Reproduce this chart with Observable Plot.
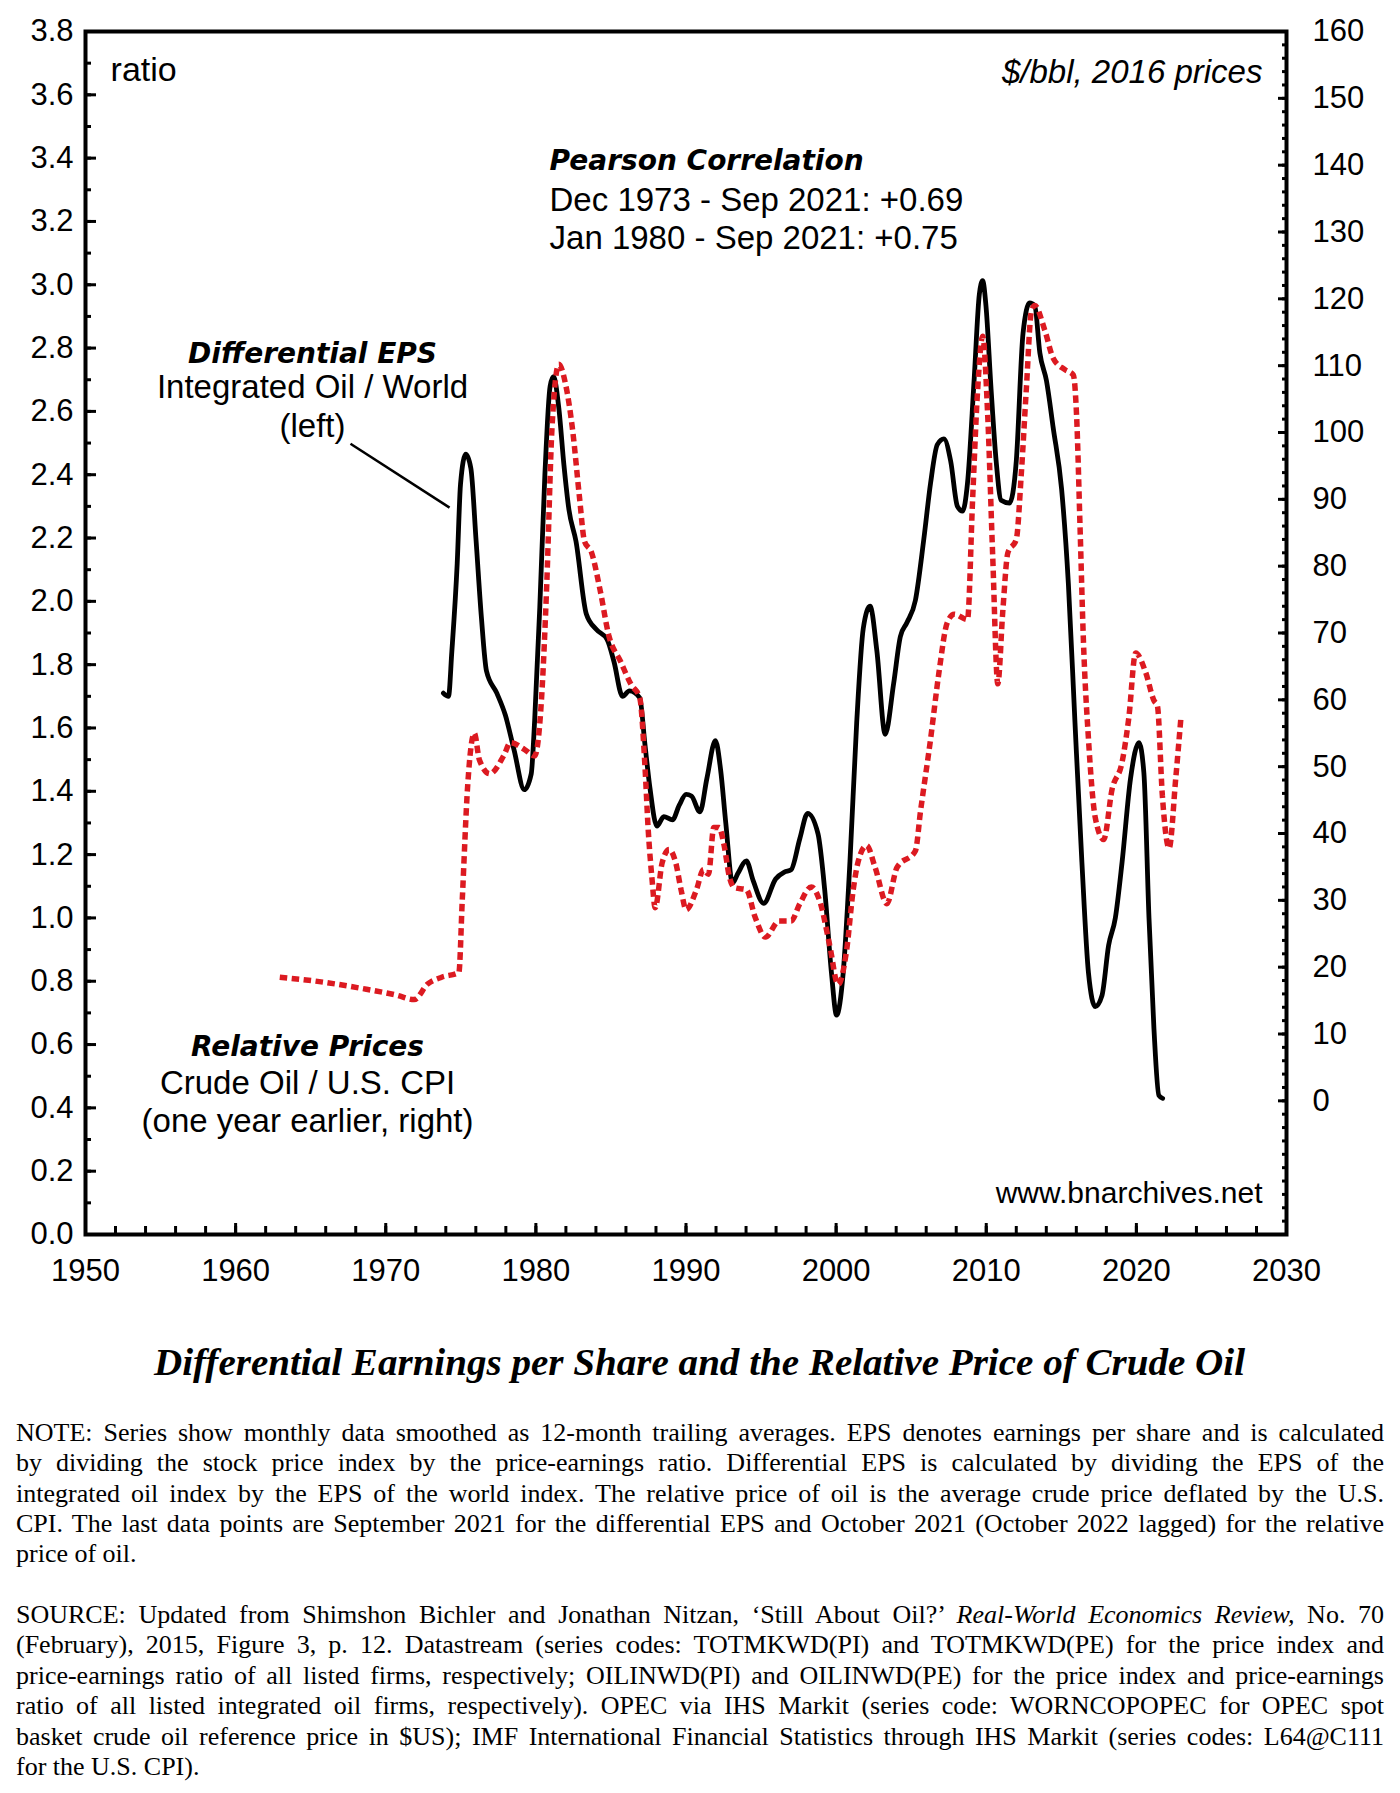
<!DOCTYPE html>
<html>
<head>
<meta charset="utf-8">
<script src="https://cdn.jsdelivr.net/npm/d3@7"></script>
<script src="https://cdn.jsdelivr.net/npm/@observablehq/plot@0.6"></script>
<style>
  html, body { margin: 0; padding: 0; background: #fff; }
  #wrap { position: relative; width: 1400px; height: 1793px; background: #fff; overflow: hidden; }
  #chart { position: absolute; left: 0; top: 0; }
  #title { position: absolute; left: 0; top: 1343px; white-space: nowrap;
           font-family: "Liberation Serif", "Times New Roman", serif; font-weight: bold; font-style: italic;
           font-size: 38px; line-height: 38px; transform-origin: 0 0; }
  .notes { position: absolute; left: 16px; transform-origin: 0 0;
           font-family: "Liberation Serif", "Times New Roman", serif; font-size: 26px; line-height: 30.4px; color: #000; }
  .ln { text-align: justify; text-align-last: justify; white-space: normal; }
  .ln.last { text-align: left; text-align-last: left; }
</style>
</head>
<body>
<div id="wrap">
  <div id="chart"></div>
  <div id="title">Differential Earnings per Share and the Relative Price of Crude Oil</div>
  <div class="notes" id="note" style="top:1417.8px">
    <div class="ln">NOTE: Series show monthly data smoothed as 12-month trailing averages. EPS denotes earnings per share and is calculated</div>
    <div class="ln">by dividing the stock price index by the price-earnings ratio. Differential EPS is calculated by dividing the EPS of the</div>
    <div class="ln">integrated oil index by the EPS of the world index. The relative price of oil is the average crude price deflated by the U.S.</div>
    <div class="ln">CPI. The last data points are September 2021 for the differential EPS and October 2021 (October 2022 lagged) for the relative</div>
    <div class="ln last">price of oil.</div>
  </div>
  <div class="notes" id="source" style="top:1600px">
    <div class="ln">SOURCE: Updated from Shimshon Bichler and Jonathan Nitzan, ‘Still About Oil?’ <i>Real-World Economics Review,</i> No. 70</div>
    <div class="ln">(February), 2015, Figure 3, p. 12. Datastream (series codes: TOTMKWD(PI) and TOTMKWD(PE) for the price index and</div>
    <div class="ln">price-earnings ratio of all listed firms, respectively; OILINWD(PI) and OILINWD(PE) for the price index and price-earnings</div>
    <div class="ln">ratio of all listed integrated oil firms, respectively). OPEC via IHS Markit (series code: WORNCOPOPEC for OPEC spot</div>
    <div class="ln">basket crude oil reference price in $US); IMF International Financial Statistics through IHS Markit (series codes: L64@C111</div>
    <div class="ln last">for the U.S. CPI).</div>
  </div>
</div>
<script>
// ---------------- DATA ----------------
// Differential EPS, Integrated Oil / World (left axis, ratio)
const epsYears = [1973.84,1974.18,1974.4,1974.76,1974.98,1975.33,1975.67,1976.02,1976.37,1976.71,1977.4,1977.97,1978.55,1979.23,1979.69,1979.92,1980.26,1980.6,1980.95,1981.17,1981.53,1981.87,1982.2,1982.67,1983.36,1984.05,1984.74,1985.2,1985.77,1986.23,1986.92,1987.26,1987.6,1988.06,1988.52,1989.1,1989.55,1990.01,1990.36,1990.93,1991.39,1991.96,1992.3,1992.65,1993.1,1993.45,1994.02,1994.48,1995.17,1995.97,1996.55,1997.0,1997.58,1998.1,1998.79,1999.24,1999.69,2000.03,2000.47,2000.92,2001.37,2001.81,2002.26,2002.71,2003.27,2003.83,2004.28,2004.72,2005.28,2005.84,2006.29,2006.74,2007.18,2007.63,2008.08,2008.42,2008.75,2009.2,2009.54,2009.76,2009.98,2010.32,2010.66,2010.99,2011.55,2012.0,2012.45,2012.89,2013.23,2013.57,2014.01,2014.46,2015.02,2015.47,2015.91,2016.37,2016.81,2017.26,2017.71,2018.15,2018.6,2019.05,2019.61,2020.17,2020.5,2020.84,2021.17,2021.5,2021.75];
const epsValues = [1.71,1.70,1.84,2.12,2.37,2.465,2.42,2.19,1.95,1.78,1.71,1.64,1.53,1.405,1.455,1.625,1.98,2.40,2.68,2.71,2.61,2.43,2.29,2.19,1.96,1.91,1.88,1.81,1.70,1.717,1.695,1.55,1.41,1.29,1.32,1.31,1.356,1.39,1.385,1.335,1.44,1.56,1.47,1.30,1.11,1.14,1.18,1.117,1.046,1.123,1.145,1.152,1.25,1.33,1.266,1.088,0.826,0.693,0.826,1.177,1.617,1.915,1.985,1.845,1.58,1.74,1.889,1.933,2.003,2.196,2.373,2.495,2.513,2.443,2.30,2.285,2.373,2.706,2.97,3.013,2.934,2.671,2.443,2.319,2.31,2.443,2.847,2.943,2.934,2.785,2.697,2.548,2.354,2.056,1.617,1.177,0.826,0.72,0.755,0.913,1.0,1.177,1.44,1.554,1.458,1.0,0.65,0.439,0.43];

// Relative price: Crude Oil / U.S. CPI, one year earlier ($/bbl, 2016 prices, right axis)
const priceYears = [1962.94,1965.7,1968.45,1970.74,1971.89,1972.8,1973.72,1974.87,1975.1,1975.45,1975.9,1976.24,1976.93,1977.85,1978.31,1979.23,1979.92,1980.38,1980.72,1981.07,1981.53,1981.98,1982.44,1982.9,1983.24,1983.7,1984.28,1984.85,1985.65,1986.34,1986.92,1987.26,1987.49,1987.72,1987.95,1988.41,1988.87,1989.32,1989.67,1990.01,1990.7,1991.16,1991.5,1991.85,1992.2,1992.54,1992.88,1993.22,1994.02,1994.6,1995.29,1996.2,1997.0,1997.58,1998.35,1998.91,1999.57,2000.13,2000.69,2001.14,2001.47,2002.03,2002.6,2003.38,2004.05,2005.28,2005.62,2006.29,2006.85,2007.41,2007.87,2008.75,2009.09,2009.43,2009.76,2010.1,2010.43,2010.77,2011.1,2011.44,2012.0,2012.34,2012.67,2013.01,2013.23,2013.9,2014.46,2015.24,2015.8,2016.02,2016.25,2016.47,2016.81,2017.26,2017.82,2018.38,2019.05,2019.5,2019.95,2020.62,2021.17,2021.4,2021.73,2022.18,2022.62,2022.97];
const priceValues = [18.5,17.8,16.8,15.8,15.15,17.5,18.5,19.2,30.2,46.9,55.0,51.0,48.95,51.6,53.6,52.6,51.6,60.3,77,100.5,110.2,107.2,100.5,90.4,83.7,82.1,76.4,69.7,65.7,62.3,60.3,50.3,40.3,33.6,28.9,35.6,37.6,35.6,31.6,28.6,31.6,34.6,33.9,40.9,40.9,38.2,33.6,31.9,31.6,27.5,24.5,26.9,26.9,29.5,32.0,29.9,23.3,17.4,22.4,31.6,35.8,38.2,34.9,29.5,34.9,37.4,43.3,54.1,64.1,71.6,72.8,72.0,89.9,106.5,114.4,102.4,81.5,62.4,73.2,82.0,84.0,94.0,106.5,118.2,119.0,115.3,111.1,109.4,108.6,102.4,85.7,69.0,54.1,42.4,39.1,46.6,50.7,57.4,67.0,64.1,59.9,59.1,45.7,37.8,48.2,57.4];

// Axis ticks
const xMajor = d3.range(1950, 2031, 10);
const xMinor = d3.range(1950, 2031, 2);
const leftMajor = d3.range(0, 3.81, 0.2);
const leftMinor = d3.range(0, 3.81, 0.1);
const rightMajor = d3.range(0, 161, 10);
const rightMinor = d3.range(-20, 161, 2);

// ---------------- CHART ----------------
const W = 1400, H = 1300;
const mL = 85, mR = 114, mT = 31, mB = 66;
const plotW = W - mL - mR, plotH = H - mT - mB;
const RED = "#dc1a21";
const leftMax = 3.8, rightMin = -20, rightMax = 160;
const toLeft = v => (v - rightMin) * leftMax / (rightMax - rightMin);
const fromLeft = y => y * (rightMax - rightMin) / leftMax + rightMin;

const eps = epsYears.map((y, i) => ({year: y, value: epsValues[i]}));
const price = priceYears.map((y, i) => ({year: y, value: priceValues[i]}));

const SANS = "'Liberation Sans', Arial, sans-serif";
const BOLDI = "'DejaVu Sans', Verdana, sans-serif";
const TICK_FS = 31;
const ANN_FS = 33;

function label(txt, x, y, anchor, extra = {}) {
  return Plot.text([txt], {x, y, text: d => d, textAnchor: anchor, lineAnchor: "bottom",
    fontSize: ANN_FS, fontFamily: SANS, fill: "black", ...extra});
}
const bi = {fontFamily: BOLDI, fontWeight: "bold", fontStyle: "italic", fontSize: 28};

const chart = Plot.plot({
  width: W, height: H,
  marginLeft: mL, marginRight: mR, marginTop: mT, marginBottom: mB,
  x: {domain: [1950, 2030]},
  y: {domain: [0, leftMax]},
  style: {fontFamily: SANS, fontSize: TICK_FS + "px", color: "black", background: "white", overflow: "visible"},
  marks: [
    Plot.line(eps, {x: "year", y: "value", stroke: "black", strokeWidth: 4.8, curve: "monotone-x"}),
    Plot.line(price, {x: "year", y: d => toLeft(d.value), stroke: RED, strokeWidth: 5.5,
      strokeDasharray: "7.5,4.5", strokeLinecap: "butt", strokeLinejoin: "miter", curve: "monotone-x"}),
    Plot.link([{x1: 1967.65, y1: 2.498, x2: 1974.25, y2: 2.296}],
      {x1: "x1", y1: "y1", x2: "x2", y2: "y2", stroke: "black", strokeWidth: 2.5}),
    // inward ticks
    Plot.tickY(leftMinor, {y: d => d, insetRight: plotW - 6, stroke: "black", strokeWidth: 3}),
    Plot.tickY(leftMajor, {y: d => d, insetRight: plotW - 11, stroke: "black", strokeWidth: 3}),
    Plot.tickY(rightMinor, {y: d => toLeft(d), insetLeft: plotW - 4, stroke: "black", strokeWidth: 3}),
    Plot.tickY(rightMajor, {y: d => toLeft(d), insetLeft: plotW - 8, stroke: "black", strokeWidth: 3}),
    Plot.tickX(xMinor, {x: d => d, insetTop: plotH - 8, stroke: "black", strokeWidth: 3}),
    Plot.tickX(xMajor, {x: d => d, insetTop: plotH - 11, stroke: "black", strokeWidth: 3}),
    Plot.frame({stroke: "black", strokeWidth: 4}),
    // tick labels
    Plot.axisY({anchor: "left", ticks: leftMajor, tickSize: 0, tickPadding: 12,
      tickFormat: d3.format(".1f"), label: null, fontSize: TICK_FS}),
    Plot.axisY({anchor: "right", ticks: rightMajor.map(toLeft), tickSize: 0, tickPadding: 26,
      tickFormat: d => String(Math.round(fromLeft(d))), label: null, fontSize: TICK_FS}),
    Plot.axisX({anchor: "bottom", ticks: xMajor, tickSize: 0, tickPadding: 24,
      tickFormat: d => String(d), label: null, fontSize: TICK_FS}),
    // annotations
    label("ratio", 1951.67, 3.645, "start", {fontSize: 34}),
    label("$/bbl, 2016 prices", 2028.4, 3.636, "end", {fontStyle: "italic"}),
    label("Pearson Correlation", 1980.91, 3.361, "start", bi),
    label("Dec 1973 - Sep 2021: +0.69", 1980.91, 3.234, "start"),
    label("Jan 1980 - Sep 2021: +0.75", 1980.91, 3.114, "start"),
    label("Differential EPS", 1965.12, 2.754, "middle", bi),
    label("Integrated Oil / World", 1965.12, 2.641, "middle"),
    label("(left)", 1965.12, 2.520, "middle"),
    label("Relative Prices", 1964.79, 0.565, "middle", bi),
    label("Crude Oil / U.S. CPI", 1964.79, 0.445, "middle"),
    label("(one year earlier, right)", 1964.79, 0.325, "middle"),
    label("www.bnarchives.net", 2028.4, 0.101, "end", {fontSize: 30})
  ]
});
document.getElementById("chart").appendChild(chart);

// ---------------- TEXT LAYOUT ----------------
(function fitTitle() {
  const t = document.getElementById("title");
  const w = t.getBoundingClientRect().width;
  const target = 1091, left = 154;
  const s = target / w;
  t.style.left = left + "px";
  t.style.transform = `scaleX(${s})`;
})();

function fitNotes(id, target) {
  const el = document.getElementById(id);
  const lines = el.querySelectorAll(".ln");
  let maxW = 0;
  lines.forEach(l => {
    if (l.classList.contains("last")) return;
    l.style.whiteSpace = "nowrap";
    l.style.display = "inline-block";
    maxW = Math.max(maxW, l.getBoundingClientRect().width);
    l.style.whiteSpace = "";
    l.style.display = "";
  });
  const s = Math.min(1, target / maxW);
  el.style.width = (target / s) + "px";
  if (s < 1) el.style.transform = `scaleX(${s})`;
}
fitNotes("note", 1368);
fitNotes("source", 1368);
</script>
</body>
</html>
